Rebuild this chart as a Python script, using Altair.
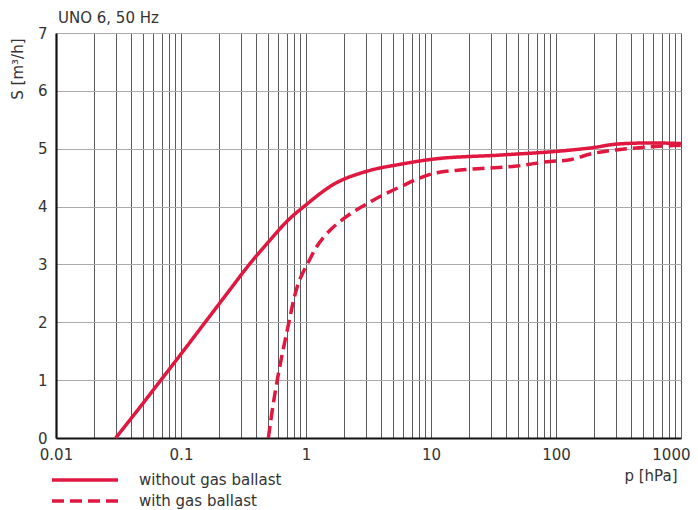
import altair as alt
import pandas as pd

# ---- data ----
series_names = ["without gas ballast", "with gas ballast"]

solid_p = [0.030, 0.0457, 0.069, 0.104, 0.156, 0.234, 0.352, 0.515, 0.70, 1.0,
           1.65, 3.06, 5.65, 10.4, 35.6, 122, 199, 306, 565, 1000]
solid_s = [0.0, 0.5, 1.0, 1.5, 2.0, 2.5, 3.0, 3.42, 3.74, 4.03,
           4.38, 4.61, 4.73, 4.82, 4.89, 4.97, 5.02, 5.08, 5.10, 5.09]

dashed_p = [0.50, 0.548, 0.589, 0.73, 0.80, 0.852, 0.95, 1.05, 1.22, 1.556,
            2.0, 3.45, 5.65, 10.4, 19.3, 48.5, 89.5, 122, 199, 415, 1000]
dashed_s = [0.0, 0.6, 1.0, 2.0, 2.4, 2.62, 2.87, 3.05, 3.31, 3.59,
            3.79, 4.11, 4.34, 4.57, 4.64, 4.70, 4.78, 4.80, 4.92, 5.01, 5.06]

x_grid = [0.01, 0.02, 0.03, 0.04, 0.05, 0.06, 0.07, 0.08, 0.09,
          0.1, 0.2, 0.3, 0.4, 0.5, 0.6, 0.7, 0.8, 0.9,
          1, 2, 3, 4, 5, 6, 7, 8, 9,
          10, 20, 30, 40, 50, 60, 70, 80, 90,
          100, 200, 300, 400, 500, 600, 700, 800, 900, 1000]
x_labels = ["0.01", "0.1", "1", "10", "100", "1000"]
y_ticks = [0, 1, 2, 3, 4, 5, 6, 7]

title_text = "UNO 6, 50 Hz"
x_title = "p [hPa]"
y_title = "S [m³/h]"

# ---- table ----
df = pd.concat([
    pd.DataFrame({"p": solid_p, "S": solid_s, "series": series_names[0],
                  "ord": list(range(len(solid_p)))}),
    pd.DataFrame({"p": dashed_p, "S": dashed_s, "series": series_names[1],
                  "ord": list(range(len(dashed_p)))}),
], ignore_index=True)

RED = "#E0173F"
FONT = "DejaVu Sans"
TXT = "#333333"

label_test = "indexof(" + str(x_labels).replace("'", '"') + ", datum.label) >= 0 ? datum.label : ''"
last_label = "datum.value >= 1000"

chart = alt.Chart(df).mark_line(
    strokeWidth=3.5, color=RED, interpolate="monotone", clip=False
).encode(
    x=alt.X("p:Q",
            scale=alt.Scale(type="log", domain=[0.01, 1000], nice=False),
            axis=alt.Axis(values=x_grid, format="~g", labelExpr=label_test,
                          labelOverlap=False, ticks=False, labelPadding=9,
                          labelAlign={"condition": {"test": last_label, "value": "right"},
                                      "value": "center"},
                          labelOffset={"condition": {"test": last_label, "value": 9},
                                       "value": 0},
                          labelFont=FONT, labelFontSize=15, labelColor=TXT,
                          grid=True, gridColor="#5a5a5a", gridWidth=1,
                          domainColor="#111111", domainWidth=2.2,
                          title=x_title, titleFont=FONT, titleFontSize=15,
                          titleFontWeight="normal", titleColor=TXT,
                          titleX=621, titleY=30, titleAlign="right",
                          titleBaseline="top", titleAnchor="end")),
    y=alt.Y("S:Q",
            scale=alt.Scale(domain=[0, 7], nice=False),
            axis=alt.Axis(values=y_ticks, ticks=False, labelPadding=9,
                          labelFont=FONT, labelFontSize=15, labelColor=TXT,
                          grid=True, gridColor="#ababab", gridWidth=1,
                          domainColor="#111111", domainWidth=2.2,
                          title=y_title, titleFont=FONT, titleFontSize=15,
                          titleFontWeight="normal", titleColor=TXT,
                          titleAngle=270, titleX=-46, titleY=5,
                          titleAlign="right", titleBaseline="top")),
    strokeDash=alt.StrokeDash(
        "series:N",
        scale=alt.Scale(domain=series_names, range=[[1, 0], [12, 6]]),
        legend=alt.Legend(title=None, orient="none", legendX=21.5, legendY=439.5,
                          symbolType="M-6,0H6", symbolSize=121,
                          symbolStrokeWidth=3.5, symbolStrokeColor=RED,
                          symbolFillColor="transparent",
                          labelFont=FONT, labelFontSize=15, labelColor=TXT,
                          labelOffset=46.5, rowPadding=5, padding=0)),
    order=alt.Order("ord:Q"),
).properties(
    width=625,
    height=405,
    autosize=alt.AutoSizeParams(type="none"),
    padding={"left": 48, "top": 25, "right": 9, "bottom": 72},
    title=alt.TitleParams(title_text, anchor="start", frame="group",
                          font=FONT, fontSize=15, fontWeight="normal",
                          color=TXT, offset=0, dx=2),
).configure_view(stroke=None).configure(background="white")

chart.save("out.html", embed_options={"renderer": "svg", "actions": False})
